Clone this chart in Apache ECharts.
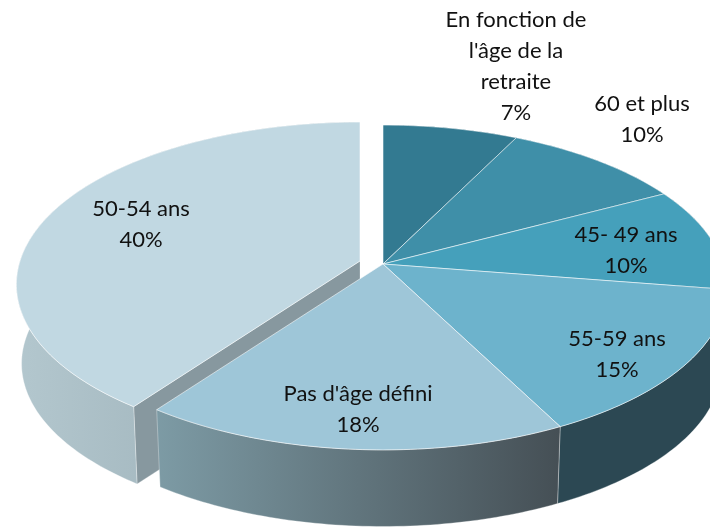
<!DOCTYPE html>
<html>
<head>
<meta charset="utf-8">
<style>html,body{margin:0;padding:0;background:#fff}#c{width:710px;height:528px}</style>
<script src="https://cdn.jsdelivr.net/npm/echarts@6/dist/echarts.min.js"></script>
</head>
<body>
<div id="c"></div>
<script>
// Data, clockwise from 12 o'clock
const categories = ["En fonction de\nl'âge de la\nretraite", "60 et plus", "45- 49 ans", "55-59 ans", "Pas d'âge défini", "50-54 ans"];
const values = [7.3, 9.9, 10.3, 15, 17.5, 40];
const percentLabels = ["7%", "10%", "10%", "15%", "18%", "40%"];

// Styling and layout
const topColors = ["#337a91", "#3f8fa8", "#45a0bb", "#6db3cc", "#9ec6d8", "#c1d8e2"];
const wallStops = [["#2a6070","#2a6070"], ["#2f6a7c","#2f6a7c"], ["#2c4853","#2c4853"], ["#2c4853","#2c4853"], ["#7d9ba5","#454f55"], ["#b3c7ce","#93a7af"]];
const labelCenters = [[516,66],[642,119],[626,250],[617,354],[358,409],[141,224]];
const explode = [[0,0],[0,0],[0,0],[0,0],[0,0],[-23,-3]];
const geo = {cx:383, cy:264, rx:340, ry:159, k:0.1446, depth:79.4, bottomScale:0.985};

const total = values.reduce((a,b)=>a+b,0);
function project(deg, bottom, off) {
  const t = deg*Math.PI/180, x = Math.sin(t), yd = -Math.cos(t), w = 1-geo.k*yd;
  const s = bottom ? geo.bottomScale : 1;
  return [geo.cx+off[0]+s*geo.rx*x/w, geo.cy+off[1]+s*geo.ry*yd/w+(bottom?geo.depth:0)];
}
function arc(a0,a1,bottom,off){
  const pts=[], n=Math.max(2,Math.ceil((a1-a0)));
  for(let i=0;i<=n;i++) pts.push(project(a0+(a1-a0)*i/n,bottom,off));
  return pts;
}
function grad(st){return {type:'linear',x:0,y:0,x2:1,y2:0,colorStops:[{offset:0,color:st[0]},{offset:1,color:st[1]}]};}

function renderItem(params, api){
  const i = params.dataIndex;
  let before = 0; for(let j=0;j<i;j++) before += values[j];
  const a0 = before/total*360, a1 = (before+api.value(0))/total*360;
  const off = explode[i], exploded = off[0]!==0;
  const wallZ = exploded?1:3;
  const top = arc(a0,a1,false,off), bot = arc(a0,a1,true,off);
  const apexTop=[geo.cx+off[0],geo.cy+off[1]], apexBot=[geo.cx+off[0],geo.cy+off[1]+geo.depth];
  const kids=[];
  if(exploded){
    kids.push({type:'polygon',z2:wallZ,shape:{points:[apexTop,top[0],bot[0],apexBot]},
      style:{fill:'#87989f',stroke:'rgba(255,255,255,0.3)',lineWidth:0.8}});
  }
  kids.push({type:'polygon',z2:wallZ+1,shape:{points:top.concat(bot.slice().reverse())},
    style:{fill:grad(wallStops[i]),stroke:'rgba(255,255,255,0.4)',lineWidth:0.8}});
  kids.push({type:'polygon',z2:10,shape:{points:[apexTop].concat(top)},
    style:{fill:topColors[i],stroke:'rgba(255,255,255,0.55)',lineWidth:1}});
  kids.push({type:'text',z2:20,x:labelCenters[i][0],y:labelCenters[i][1],
    style:{text:categories[i]+"\n"+percentLabels[i],fill:'#111',align:'center',verticalAlign:'middle',
      font:'22px Lato, sans-serif',lineHeight:31}});
  return {type:'group',children:kids};
}

const chart = echarts.init(document.getElementById('c'),null,{renderer:'canvas'});
chart.setOption({
  animation:false,
  backgroundColor:'#ffffff',
  series:[{type:'custom',coordinateSystem:'none',renderItem:renderItem,clip:false,
    data:values.map((v,i)=>({name:categories[i],value:[v]}))}]
});
</script>
</body>
</html>
